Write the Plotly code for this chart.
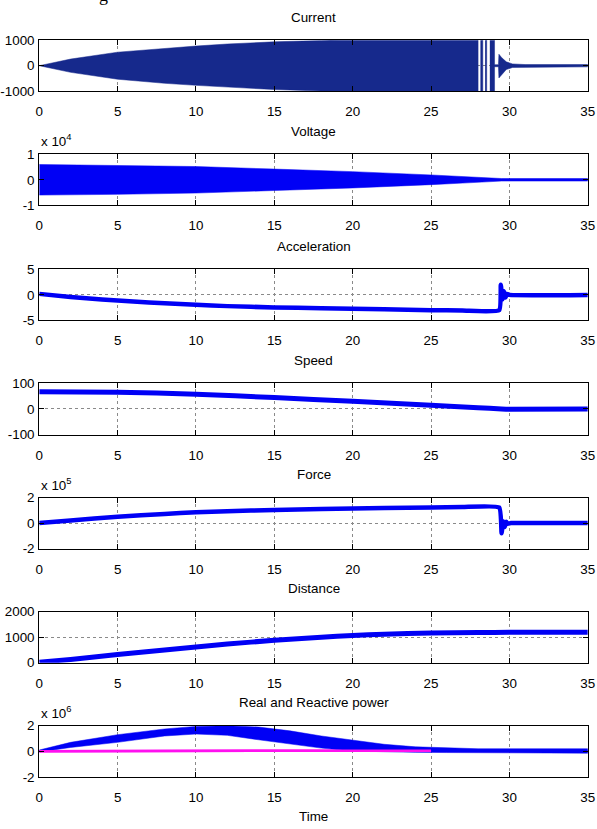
import plotly.graph_objects as go

# ---------------- data ----------------
time_ticks = [0, 5, 10, 15, 20, 25, 30, 35]
titles = ["Current", "Voltage", "Acceleration", "Speed", "Force", "Distance",
          "Real and Reactive power"]

# Current: oscillation envelope (amplitude, A)
cur_t = [0, 2, 5, 8, 10, 12, 15, 18, 20, 28.0]
cur_amp = [0, 260, 530, 690, 770, 850, 935, 990, 1050, 1100]
cur_burst_start = [28.15, 28.45, 28.75]
cur_burst_end = [28.30, 28.55, 29.05]
cur_burst_amp = [1100, 1100, 1100]
cur_tail_t = [29.05, 29.30, 29.33, 29.5, 29.8, 30.2, 31.0, 35.0]
cur_tail_hi = [40, 40, 450, 320, 150, 70, 45, 45]
cur_tail_lo = [-40, -40, -480, -350, -150, -70, -45, -45]

# Voltage envelope (V)
volt_t = [0, 5, 10, 15, 20, 25, 27, 28, 28.5, 29, 29.5, 35]
volt_amp = [6000, 5700, 5200, 4200, 3200, 1900, 1300, 1000, 800, 700, 500, 500]

# Acceleration
acc_t = [0, 2, 4, 6, 8, 10, 12, 15, 18, 20, 22, 25, 27, 29.35, 29.45, 29.55, 29.65, 29.75, 29.85, 30.0, 35]
acc_v = [0.2, -0.4, -0.9, -1.3, -1.65, -1.95, -2.2, -2.45, -2.6, -2.7, -2.8, -3.0, -3.05, -3.0, 2.0, -0.9, 0.7, -0.5, 0.2, 0.0, 0.0]

# Speed
spd_t = [0, 5, 10, 15, 20, 25, 28, 29.5, 30, 35]
spd_v = [68, 66, 58, 45, 30, 15, 5, 0, -1, 0]

# Force
frc_t = [0, 2, 5, 8, 10, 12, 15, 18, 20, 22, 25, 27, 29.35, 29.5, 29.6, 29.7, 29.8, 29.9, 30.1, 35]
frc_v = [0, 20000, 50000, 72000, 85000, 93000, 103000, 110000, 115000, 118000, 123000, 126000, 122000,
         -80000, 15000, -30000, 10000, -5000, 0, 0]

# Distance
dst_t = [0, 2, 5, 8, 10, 12, 15, 18, 20, 22, 25, 28, 30, 35]
dst_v = [20, 130, 320, 500, 620, 730, 880, 1000, 1070, 1120, 1160, 1180, 1190, 1190]

# Real power envelope and reactive power
pw_t = [0, 2, 5, 8, 10, 12, 14, 16, 18, 20, 22, 24, 26, 28, 30, 35]
pw_hi = [1e5, 7e5, 1.3e6, 1.75e6, 1.95e6, 2.0e6, 1.9e6, 1.6e6, 1.2e6, 0.85e6, 0.55e6, 0.35e6, 0.25e6, 0.2e6, 0.2e6, 0.2e6]
pw_lo = [-5e4, 3e5, 7e5, 1.2e6, 1.35e6, 1.25e6, 0.9e6, 0.55e6, 0.25e6, 0.02e6, -0.05e6, -0.08e6, -0.1e6, -0.12e6, -0.15e6, -0.15e6]
q_t = [0, 5, 10, 15, 20, 25, 27, 30, 35]
q_v = [0, 30000, 50000, 50000, 50000, 50000, 40000, 20000, 20000]

y_ranges = [[-1000, 1000], [-1e4, 1e4], [-5, 5], [-100, 100], [-2e5, 2e5], [0, 2000], [-2e6, 2e6]]
y_tickvals = [[-1000, 0, 1000], [-1e4, 0, 1e4], [-5, 0, 5], [-100, 0, 100], [-2e5, 0, 2e5],
              [0, 1000, 2000], [-2e6, 0, 2e6]]
y_ticktext = [["-1000", "0", "1000"], ["-1", "0", "1"], ["-5", "0", "5"], ["-100", "0", "100"],
              ["-2", "0", "2"], ["0", "1000", "2000"], ["-2", "0", "2"]]
exponents = [None, "4", None, None, "5", None, "6"]

# ---------------- layout geometry ----------------
W, H = 597, 829
PAD = 8
SX, SY = W / (W + 2 * PAD), H / (H + 2 * PAD)


def fx(r):  # target picture x -> figure x
    return r / SX - PAD


def fy(r):  # target picture y -> figure y
    return r / SY - PAD


X0, X1 = fx(39), fx(587)
ref_tops = [41, 155, 270, 384, 498, 612, 726]
ref_box_h = 51
FONT = "Liberation Sans, Arial, sans-serif"
FS = 13.4
NAVY = "#16298c"
BLUE = "#0000f5"
MAG = "#ff10f0"


def py(p):
    return 1 - p / H


def band(ts, hi, lo):
    return list(ts) + list(ts)[::-1] + [None], list(hi) + list(lo)[::-1] + [None]


fig = go.Figure()


def ax(i):
    return ("x" if i == 0 else f"x{i+1}"), ("y" if i == 0 else f"y{i+1}")


# Current
xs, ys = band(cur_t, cur_amp, [-a for a in cur_amp])
for s, e, a in zip(cur_burst_start, cur_burst_end, cur_burst_amp):
    bx, by = band([s, e], [a, a], [-a, -a])
    xs += bx
    ys += by
bx, by = band(cur_tail_t, cur_tail_hi, cur_tail_lo)
xs += bx
ys += by
xa, ya = ax(0)
fig.add_trace(go.Scatter(x=xs, y=ys, fill="toself", fillcolor=NAVY, mode="lines",
                         line=dict(color=NAVY, width=0.5), xaxis=xa, yaxis=ya, showlegend=False))

# Voltage
xs, ys = band(volt_t, volt_amp, [-a for a in volt_amp])
xa, ya = ax(1)
fig.add_trace(go.Scatter(x=xs, y=ys, fill="toself", fillcolor=BLUE, mode="lines",
                         line=dict(color=BLUE, width=0.5), xaxis=xa, yaxis=ya, showlegend=False))

# Lines
for i, (t, v, w) in zip([2, 3, 4, 5], [(acc_t, acc_v, 4.5), (spd_t, spd_v, 5), (frc_t, frc_v, 4.5),
                                        (dst_t, dst_v, 5)]):
    xa, ya = ax(i)
    fig.add_trace(go.Scatter(x=t, y=v, mode="lines", line=dict(color=BLUE, width=w, shape="spline",
                                                               smoothing=0.4),
                             xaxis=xa, yaxis=ya, showlegend=False))

# Power
xa, ya = ax(6)
fig.add_trace(go.Scatter(x=q_t, y=q_v, mode="lines", line=dict(color=MAG, width=2.5),
                         xaxis=xa, yaxis=ya, showlegend=False))
xs, ys = band(pw_t, pw_hi, pw_lo)
fig.add_trace(go.Scatter(x=xs, y=ys, fill="toself", fillcolor=BLUE, mode="lines",
                         line=dict(color=BLUE, width=0.5), xaxis=xa, yaxis=ya, showlegend=False))
qt_front = [t for t in q_t if t <= 25]
fig.add_trace(go.Scatter(x=qt_front, y=q_v[:len(qt_front)], mode="lines", line=dict(color=MAG, width=2.5),
                         xaxis=xa, yaxis=ya, showlegend=False))

layout = dict(width=W, height=H, margin=dict(l=0, r=0, t=0, b=0),
              paper_bgcolor="white", plot_bgcolor="white",
              font=dict(family=FONT, size=FS, color="black"), showlegend=False)
annotations = []
common = dict(showline=True, linecolor="black", linewidth=1, mirror="allticks",
              ticks="inside", ticklen=5, tickcolor="black", tickwidth=1,
              showgrid=True, gridcolor="#8a8a8a", griddash="dot", gridwidth=1,
              zeroline=False, tickfont=dict(family=FONT, size=FS, color="black"))
for i in range(7):
    top = fy(ref_tops[i])
    bot = fy(ref_tops[i] + ref_box_h)
    xk = "xaxis" if i == 0 else f"xaxis{i+1}"
    yk = "yaxis" if i == 0 else f"yaxis{i+1}"
    xa, ya = ax(i)
    layout[xk] = dict(domain=[X0 / W, X1 / W], range=[0, 35], anchor=ya, ticklabelstandoff=8,
                      ticklabeloverflow="allow",
                      tickvals=time_ticks, ticktext=[str(v) for v in time_ticks], **common)
    layout[yk] = dict(domain=[py(bot), py(top)], range=y_ranges[i], anchor=xa, ticklabelstandoff=1,
                      tickvals=y_tickvals[i], ticktext=y_ticktext[i], **common)
    annotations.append(dict(text=titles[i], x=(X0 + X1) / 2 / W, y=py(fy(ref_tops[i] - 23)),
                            xref="paper", yref="paper",
                            xanchor="center", yanchor="middle", showarrow=False,
                            font=dict(family=FONT, size=FS, color="black")))
    if exponents[i]:
        annotations.append(dict(text="x 10<sup>" + exponents[i] + "</sup>", x=X0 / W,
                                y=py(fy(ref_tops[i] - 3)),
                                xref="paper", yref="paper", xanchor="left", yanchor="bottom",
                                showarrow=False, font=dict(family=FONT, size=FS, color="black")))
annotations.append(dict(text="Time", x=(X0 + X1) / 2 / W, y=py(824), xref="paper", yref="paper",
                        xanchor="center", yanchor="middle", showarrow=False,
                        font=dict(family=FONT, size=FS, color="black")))
annotations.append(dict(text="g", x=fx(103) / W, y=py(fy(-4)), xref="paper", yref="paper",
                        xanchor="center", yanchor="middle", showarrow=False,
                        font=dict(family="Liberation Serif, serif", size=18, color="black")))
layout["annotations"] = annotations
fig.update_layout(**layout)

post = ("document.documentElement.style.margin='0';document.documentElement.style.padding='0';"
        "document.body.style.margin='0';document.body.style.padding='0';"
        "document.documentElement.style.overflow='hidden';document.body.style.overflow='hidden';"
        "var gd=document.getElementById('{plot_id}');gd.style.position='absolute';"
        "gd.style.left='0px';gd.style.top='0px';")
fig.write_html("out.html", config=dict(displayModeBar=False), post_script=post)
